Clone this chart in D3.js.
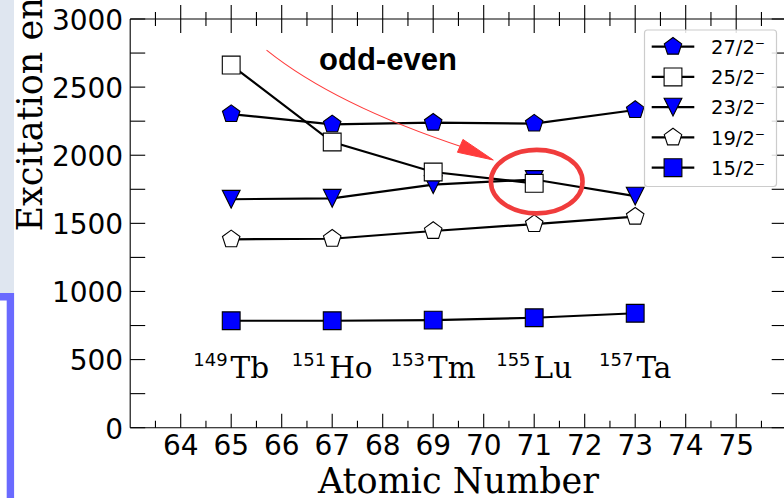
<!DOCTYPE html>
<html>
<head>
<meta charset="utf-8">
<script src="https://cdn.jsdelivr.net/npm/d3@7"></script>
<style>
  html, body { margin: 0; padding: 0; background: #ffffff; }
  svg { display: block; }
</style>
</head>
<body>
<svg id="chart" width="784" height="498"></svg>
<script>
// ---------------- data ----------------
const atomicNumbers = [65, 67, 69, 71, 73];
const massNumbers   = [149, 151, 153, 155, 157];
const elements      = ["Tb", "Ho", "Tm", "Lu", "Ta"];

const level27 = [2302, 2227, 2239, 2232, 2332];   // 27/2-
const level25 = [2662, 2097, 1877, 1794];         // 25/2- (65..71)
const level23 = [1677, 1684, 1784, 1822, 1700];   // 23/2-
const level19 = [1383, 1387, 1444, 1495, 1549];   // 19/2-
const level15 = [785, 785, 790, 807, 840];        // 15/2-

const seriesNames = ["27/2\u207B", "25/2\u207B", "23/2\u207B", "19/2\u207B", "15/2\u207B"];

const xTicks      = [64, 65, 66, 67, 68, 69, 70, 71, 72, 73, 74, 75];
const xMinorTicks = [63.5, 64.5, 65.5, 66.5, 67.5, 68.5, 69.5, 70.5, 71.5, 72.5, 73.5, 74.5, 75.5];
const yTicks      = [0, 500, 1000, 1500, 2000, 2500, 3000];
const yMinorTicks = [250, 750, 1250, 1750, 2250, 2750];

const labelLevel = 365;          // energy at which isotope labels sit
const noteText = "odd-even";
const notePos = [66.74, 2626];
const arrowPts = [[65.70, 2772], [67.055, 2369], [70.19, 1965]];
const circle = { x: 71.05, y: 1806, rx: 0.907, ry: 233 };

// ---------------- scales ----------------
const x = d3.scaleLinear().domain([63, 76]).range([130.2, 786.7]);
const y = d3.scaleLinear().domain([0, 3000]).range([427.7, 19]);

const svg = d3.select("#chart");
const SANS = "'DejaVu Sans', sans-serif";
const SERIF = "'DejaVu Serif', serif";

// ---------------- left slide decoration ----------------
svg.append("rect").attr("x", 0).attr("y", 0).attr("width", 14).attr("height", 293)
  .attr("fill", "#dfe6f0");
svg.append("path")
  .attr("d", "M0,296.8 H10.4 V498")
  .attr("fill", "none").attr("stroke", "#6a6aff").attr("stroke-width", 7.4);

// ---------------- frame & ticks ----------------
const frame = svg.append("g").attr("stroke", "#000").attr("stroke-width", 1.1).attr("fill", "none");
frame.append("line").attr("x1", x(63)).attr("x2", x(63)).attr("y1", y(3000)).attr("y2", y(0));
frame.append("line").attr("x1", x(63)).attr("x2", x(76)).attr("y1", y(0)).attr("y2", y(0));
frame.append("line").attr("x1", x(63)).attr("x2", x(76)).attr("y1", y(3000)).attr("y2", y(3000));
frame.append("line").attr("x1", x(76)).attr("x2", x(76)).attr("y1", y(3000)).attr("y2", y(0));

// bottom ticks (inward)
xTicks.forEach(v => frame.append("line").attr("x1", x(v)).attr("x2", x(v)).attr("y1", y(0)).attr("y2", y(0) - 14));
xMinorTicks.forEach(v => frame.append("line").attr("x1", x(v)).attr("x2", x(v)).attr("y1", y(0)).attr("y2", y(0) - 7));
// top ticks (crossing)
xTicks.forEach(v => frame.append("line").attr("x1", x(v)).attr("x2", x(v)).attr("y1", y(3000) - 14).attr("y2", y(3000) + 14));
xMinorTicks.forEach(v => frame.append("line").attr("x1", x(v)).attr("x2", x(v)).attr("y1", y(3000) - 7).attr("y2", y(3000) + 7));
// left / right ticks (inward)
yTicks.concat(yMinorTicks).forEach(v => {
  frame.append("line").attr("x1", x(63)).attr("x2", x(63) + 15).attr("y1", y(v)).attr("y2", y(v));
  frame.append("line").attr("x1", x(76)).attr("x2", x(76) - 15).attr("y1", y(v)).attr("y2", y(v));
});

// tick labels
svg.append("g").selectAll("text").data(yTicks).join("text")
  .attr("x", x(63) - 7).attr("y", d => y(d) + 10.8)
  .attr("text-anchor", "end").attr("font-family", SANS).attr("font-size", 28).attr("fill", "#000")
  .text(d => d);
svg.append("g").selectAll("text").data(xTicks).join("text")
  .attr("x", d => x(d)).attr("y", y(0) + 27.5)
  .attr("text-anchor", "middle").attr("font-family", SANS).attr("font-size", 28).attr("fill", "#000")
  .text(d => d);

// axis titles
svg.append("text").attr("x", (x(63) + x(76)) / 2).attr("y", 493)
  .attr("text-anchor", "middle").attr("font-family", SERIF).attr("font-size", 35).attr("fill", "#000")
  .text("Atomic Number");
svg.append("text").attr("transform", "translate(41.7,231.5) rotate(-90)")
  .attr("text-anchor", "start").attr("font-family", SERIF).attr("font-size", 35).attr("fill", "#000")
  .text("Excitation energy (keV)");

// ---------------- markers ----------------
function markerPath(shape) {
  if (shape === "pentagon") {
    const r = 9.2;
    const pts = d3.range(5).map(k => {
      const a = -Math.PI / 2 + k * 2 * Math.PI / 5;
      return [r * Math.cos(a), r * Math.sin(a)];
    });
    return "M" + pts.map(p => p.join(",")).join("L") + "Z";
  }
  if (shape === "square") {
    const s = 8.9;
    return `M${-s},${-s}H${s}V${s}H${-s}Z`;
  }
  if (shape === "tridown") {
    const s = 8.9;
    return `M0,${s}L${-s},${-s}L${s},${-s}Z`;
  }
}

const series = [
  { name: seriesNames[0], values: level27, shape: "pentagon", fill: "#0000ff" },
  { name: seriesNames[1], values: level25, shape: "square",   fill: "#ffffff" },
  { name: seriesNames[2], values: level23, shape: "tridown",  fill: "#0000ff" },
  { name: seriesNames[3], values: level19, shape: "pentagon", fill: "#ffffff" },
  { name: seriesNames[4], values: level15, shape: "square",   fill: "#0000ff" }
];
const drawOrder = [0, 2, 1, 3, 4];

const line = d3.line().x(d => x(d[0])).y(d => y(d[1]));
drawOrder.forEach(i => {
  const s = series[i];
  const pts = s.values.map((v, j) => [atomicNumbers[j], v]);
  const g = svg.append("g");
  g.append("path").attr("d", line(pts)).attr("fill", "none")
    .attr("stroke", "#000").attr("stroke-width", 2.2);
  g.selectAll("path.m").data(pts).join("path").attr("class", "m")
    .attr("transform", d => `translate(${x(d[0])},${y(d[1])})`)
    .attr("d", markerPath(s.shape)).attr("fill", s.fill)
    .attr("stroke", "#000").attr("stroke-width", 1.1);
});

// ---------------- isotope labels ----------------
const lab = svg.append("g").selectAll("text").data(atomicNumbers).join("text")
  .attr("x", d => x(d)).attr("y", y(labelLevel))
  .attr("text-anchor", "middle").attr("fill", "#000");
lab.append("tspan").attr("font-family", SANS).attr("font-size", 18).attr("dy", -12)
  .text((d, i) => massNumbers[i]);
lab.append("tspan").attr("font-family", SERIF).attr("font-size", 29.5).attr("dy", 12).attr("dx", 3)
  .text((d, i) => elements[i]);

// ---------------- annotations ----------------
svg.append("text").attr("x", x(notePos[0])).attr("y", y(notePos[1]))
  .attr("font-family", "'Liberation Sans', Arial, sans-serif").attr("font-weight", "bold")
  .attr("font-size", 31).attr("fill", "#000").text(noteText);

svg.append("ellipse")
  .attr("cx", x(circle.x)).attr("cy", y(circle.y))
  .attr("rx", x(circle.x + circle.rx) - x(circle.x))
  .attr("ry", y(circle.y) - y(circle.y + circle.ry))
  .attr("fill", "none").attr("stroke", "#f03c3c").attr("stroke-width", 4.6);

{
  const P = arrowPts.map(p => [x(p[0]), y(p[1])]);
  const tip = P[2];
  let dx = tip[0] - P[1][0], dy = tip[1] - P[1][1];
  const len = Math.hypot(dx, dy); dx /= len; dy /= len;
  const ang = Math.atan2(dy, dx) + 0.07;
  const ux = Math.cos(ang), uy = Math.sin(ang);
  const L = 36, hw = 7;
  const base = [tip[0] - L * ux, tip[1] - L * uy];
  svg.append("path")
    .attr("d", `M${P[0][0]},${P[0][1]}Q${P[1][0]},${P[1][1]} ${base[0] + 4 * ux},${base[1] + 4 * uy}`)
    .attr("fill", "none").attr("stroke", "#ff3b3b").attr("stroke-width", 1.1);
  svg.append("path")
    .attr("d", `M${tip[0]},${tip[1]}L${base[0] - hw * uy},${base[1] + hw * ux}L${base[0] + hw * uy},${base[1] - hw * ux}Z`)
    .attr("fill", "#ff3b3b").attr("stroke", "#ff3b3b").attr("stroke-width", 1);
}

// ---------------- legend ----------------
const leg = svg.append("g");
leg.append("rect").attr("x", 644.5).attr("y", 30).attr("width", 132).attr("height", 156.5)
  .attr("rx", 3).attr("fill", "#ffffff").attr("fill-opacity", 0.85)
  .attr("stroke", "#cccccc").attr("stroke-width", 1.2);
series.forEach((s, i) => {
  const cy = 46.7 + i * 30.25;
  leg.append("line").attr("x1", 651.7).attr("x2", 694.3).attr("y1", cy).attr("y2", cy)
    .attr("stroke", "#000").attr("stroke-width", 2.2);
  leg.append("path").attr("transform", `translate(673,${cy})`).attr("d", markerPath(s.shape))
    .attr("fill", s.fill).attr("stroke", "#000").attr("stroke-width", 1.1);
  leg.append("text").attr("x", 711).attr("y", cy + 7.2)
    .attr("font-family", SANS).attr("font-size", 19.5).attr("fill", "#000").text(s.name);
});
</script>
</body>
</html>
